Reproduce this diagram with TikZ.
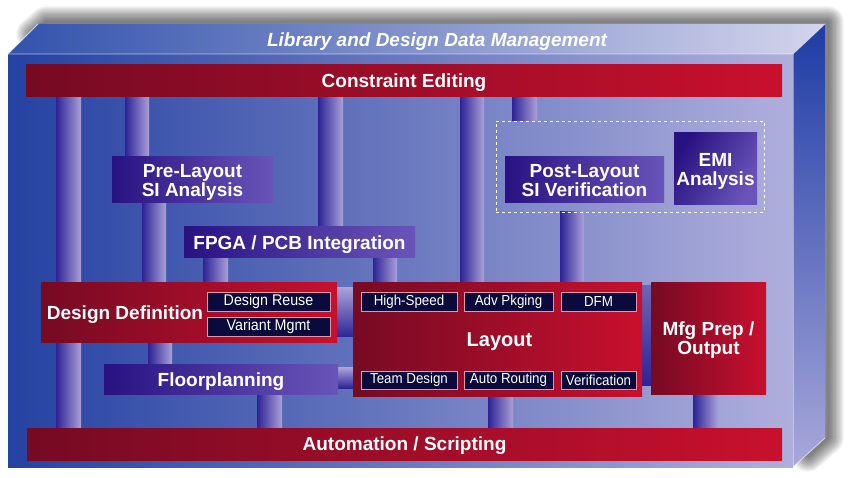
\documentclass[tikz,border=0pt]{standalone}
\usepackage{fontspec}
\setmainfont{Liberation Sans}
\newfontfamily\subf[FakeStretch=0.92]{Liberation Sans}
\pgfdeclarelayer{shadowl}
\pgfdeclarelayer{bg}
\pgfsetlayers{shadowl,bg,main}
\definecolor{faceL}{RGB}{36,66,162}
\definecolor{faceM}{RGB}{95,115,195}
\definecolor{faceR}{RGB}{175,175,220}
\definecolor{topL}{RGB}{50,82,172}
\definecolor{topR}{RGB}{212,212,236}
\definecolor{sideT}{RGB}{30,60,165}
\definecolor{sideB}{RGB}{168,168,218}
\definecolor{redL}{RGB}{118,10,35}
\definecolor{redR}{RGB}{200,16,46}
\definecolor{pipeL}{RGB}{45,35,150}
\definecolor{pipeR}{RGB}{170,160,215}
\definecolor{purL}{RGB}{40,18,130}
\definecolor{purR}{RGB}{105,85,185}
\definecolor{navy}{RGB}{10,10,60}
\definecolor{pinkedge}{RGB}{225,150,170}
\tikzset{
  box/.style={inner sep=0pt, outer sep=0pt, anchor=north west, text=white, align=center},
  redbox/.style={box, left color=redL, right color=redR},
  purbox/.style={box, left color=purL, right color=purR},
  big/.style={font=\fontsize{19}{19}\selectfont\bfseries, text depth=0pt},
  subbox/.style={box, fill=navy, draw=pinkedge, line width=0.9pt, font=\subf\fontsize{14.5}{15}\selectfont},
  subboxl/.style={subbox, font=\subf\fontsize{15.5}{16}\selectfont},
  pipe/.style={left color=pipeL, right color=pipeR},
  hpipe/.style={top color=pipeR, bottom color=pipeL},
}
\begin{document}
\begin{tikzpicture}[x=1pt,y=-1pt]
\useasboundingbox (0,0) rectangle (849,478);
% ---- shadow and cube faces
\begin{pgfonlayer}{shadowl}
\foreach \i in {1,...,12}
  \draw[black, opacity=0.055, line width={\i*2.6pt}, line join=round, line cap=round]
    (32,34) -- (46,22) -- (828,22) -- (828,438) -- (808,456);
\shade[left color=faceL, middle color=faceM, right color=faceR] (8,54) rectangle (793,467);
\shade[left color=topL, right color=topR] (8,54) -- (38,24) -- (825,24) -- (793,54) -- cycle;
\shade[top color=sideT, bottom color=sideB] (793,54) -- (825,24) -- (825,438) -- (793,467) -- cycle;
\draw[white, opacity=0.7, line width=0.8pt] (8,54) -- (38,24);
\draw[white, opacity=0.6, line width=0.8pt] (8,54) -- (793,54) -- (825,24);
\draw[white, opacity=0.6, line width=0.8pt] (793,467) -- (825,438);
\draw[white, opacity=0.4, line width=0.6pt] (793,54) -- (793,467);
\end{pgfonlayer}
% ---- title
\node[text=white, font=\fontsize{19}{19}\selectfont\bfseries\itshape, text depth=0pt] (title) at (437,40) {Library and Design Data Management};
% ---- bars
\node[redbox, big, minimum width=756pt, minimum height=32pt] (ce) at (26,65) {Constraint Editing};
\node[redbox, big, minimum width=755pt, minimum height=32pt] (as) at (27,428) {Automation / Scripting};
% ---- purple boxes
\node[purbox, big, minimum width=161pt, minimum height=46pt] (pre) at (112,157) {Pre-Layout\\SI Analysis};
\node[purbox, big, minimum width=231pt, minimum height=31pt] (fpga) at (184,227) {FPGA / PCB Integration};
\node[purbox, big, minimum width=234pt, minimum height=29pt] (floor) at (104,365) {Floorplanning};
\node[draw=white, dashed, line width=0.6pt, box, minimum width=268pt, minimum height=91pt] (grp) at (496,121) {};
\node[purbox, big, minimum width=159pt, minimum height=46pt] (post) at (505,157) {Post-Layout\\SI Verification};
\node[purbox, big, minimum width=83pt, minimum height=72pt, shading angle=60] (emi) at (674,133) {EMI\\Analysis};
% ---- red boxes
\node[redbox, minimum width=296pt, minimum height=60pt] (dd) at (41,283) {};
\node[big, text=white, inner sep=0pt] (ddl) at (125,313) {Design Definition};
\node[subboxl, minimum width=123pt, minimum height=19pt] (dr) at (207,292) {Design Reuse};
\node[subboxl, minimum width=123pt, minimum height=19pt] (vm) at (207,317) {Variant Mgmt};
\node[redbox, font=\fontsize{20}{20}\selectfont\bfseries, text depth=0pt, minimum width=289pt, minimum height=113pt] (lay) at (353,283) {\hspace*{4pt}Layout};
\node[subbox, minimum width=96pt, minimum height=19pt] (hs) at (361,292) {High-Speed};
\node[subbox, minimum width=89pt, minimum height=19pt] (ap) at (464,292) {Adv Pkging};
\node[subbox, minimum width=75pt, minimum height=19pt] (dfm) at (561,292) {DFM};
\node[subbox, minimum width=96pt, minimum height=18pt] (td) at (361,371) {Team Design};
\node[subbox, minimum width=89pt, minimum height=18pt] (ar) at (464,371) {Auto Routing};
\node[subbox, minimum width=75pt, minimum height=18pt] (ver) at (561,371) {Verification};
\node[redbox, big, minimum width=115pt, minimum height=111pt] (mfg) at (651,283) {Mfg Prep /\\Output};
% ---- pipes (connectors)
\begin{pgfonlayer}{bg}
\path[pipe] (56,0 |- ce.south) rectangle (81,0 |- as.north);
\path[pipe] (125,0 |- ce.south) rectangle (149,0 |- pre.north);
\path[pipe] (142,0 |- pre.south) rectangle (166,0 |- dd.north);
\path[pipe] (148,0 |- dd.south) rectangle (172,0 |- floor.north);
\path[pipe] (318,0 |- ce.south) rectangle (343,0 |- fpga.north);
\path[pipe] (460,0 |- ce.south) rectangle (484,0 |- lay.north);
\path[pipe] (512,0 |- ce.south) rectangle (537,0 |- grp.north);
\path[pipe] (560,0 |- grp.south) rectangle (584,0 |- lay.north);
\path[pipe] (203,0 |- fpga.south) rectangle (228,0 |- dd.north);
\path[pipe] (373,0 |- fpga.south) rectangle (397,0 |- lay.north);
\path[pipe] (257,0 |- floor.south) rectangle (282,0 |- as.north);
\path[pipe] (488,0 |- lay.south) rectangle (513,0 |- as.north);
\path[pipe] (693,0 |- mfg.south) rectangle (718,0 |- as.north);
\path[hpipe] (dd.east |- 0,288) rectangle (lay.west |- 0,337);
\path[hpipe] (floor.east |- 0,368) rectangle (lay.west |- 0,388);
\path[top color=pipeL!70, bottom color=pipeL] (lay.east |- 0,286) rectangle (mfg.west |- 0,385);
\end{pgfonlayer}
\end{tikzpicture}
\end{document}
